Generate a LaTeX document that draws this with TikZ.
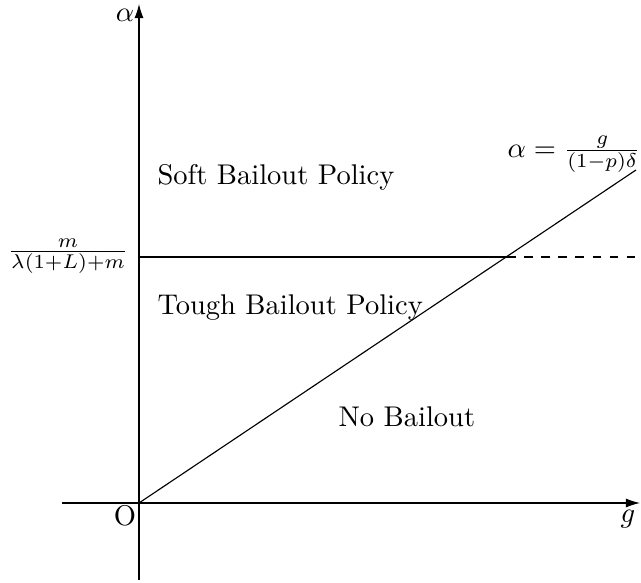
\documentclass[tikz,border=0pt]{standalone}
\usetikzlibrary{arrows.meta}
\begin{document}
\begin{tikzpicture}[x=0.3509pt, y=-0.3509pt,
  axis/.style={-{Latex[length=5pt,width=3.2pt]}},
  lbl/.style={inner sep=0pt}]
\useasboundingbox (0,0) rectangle (641,583);
% coordinates
\coordinate (O) at (139,503);
\coordinate (ybot) at (139,580);
\coordinate (ytop) at (139,4);
\coordinate (xleft) at (62,503);
\coordinate (xright) at (640,503);
\coordinate (lineend) at (636,170);
\coordinate (hstart) at (139,257);
\coordinate (hcross) at (507,257);
\coordinate (hend) at (640,257);
% axes
\draw[axis] (ybot) -- (ytop);
\draw[axis] (xleft) -- (xright);
% lines
\draw (O) -- (lineend);
\draw (hstart) -- (hcross);
\draw[dashed] (hcross) -- (hend);
% labels
\node[lbl] (alab) at (125,15) {$\alpha$};
\node[lbl] (glab) at (628,519) {$g$};
\node[lbl] (olab) at (125,516) {O};
\node[lbl] (mlab) at (68,256) {$\frac{m}{\lambda(1+L)+m}$};
\node[lbl] (eqlab) at (574,154) {$\alpha=\frac{g}{(1-p)\delta}$};
\node[lbl, anchor=base west] (soft) at (157,185) {Soft Bailout Policy};
\node[lbl, anchor=base west] (tough) at (157,315) {Tough Bailout Policy};
\node[lbl, anchor=base west] (nob) at (338,427) {No Bailout};
\end{tikzpicture}
\end{document}
